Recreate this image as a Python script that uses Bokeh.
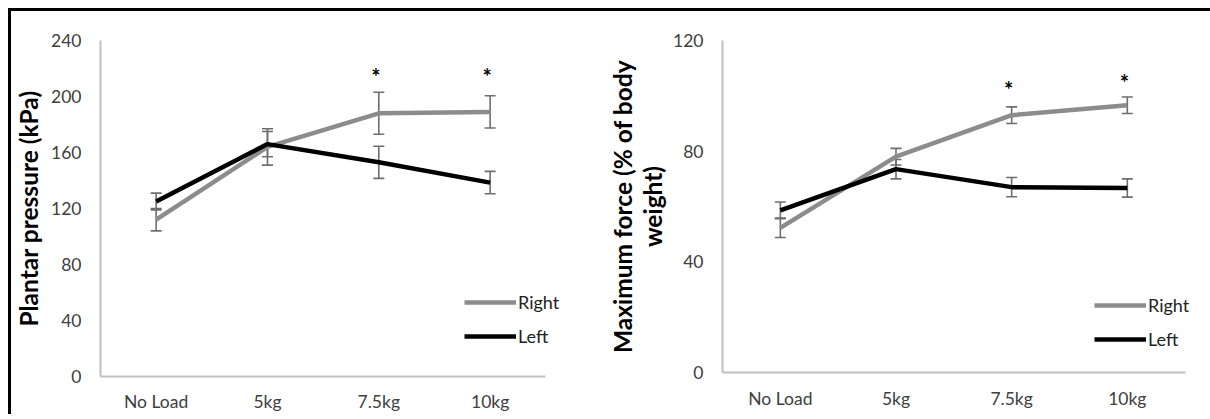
from bokeh.plotting import figure
from bokeh.models import (ColumnDataSource, Whisker, TeeHead, Range1d,
                          FixedTicker, Legend, LegendItem, Div)
from bokeh.layouts import row, column
from bokeh.embed import file_html
from bokeh.resources import INLINE
from bokeh.core.properties import value

categories = ["No Load", "5kg", "7.5kg", "10kg"]

pressure_right = [112, 164, 188, 189]
pressure_right_err = [8, 13, 15, 11.5]
pressure_left = [125, 166, 153, 138.5]
pressure_left_err = [6, 9, 11.5, 8]
pressure_sig_idx = [2, 3]
pressure_sig_y = [218, 218]
pressure_ticks = [0, 40, 80, 120, 160, 200, 240]

force_right = [52.3, 78, 93, 96.6]
force_right_err = [3.5, 3, 3, 3]
force_left = [58.6, 73.5, 67, 66.7]
force_left_err = [3, 3.5, 3.5, 3.3]
force_sig_idx = [2, 3]
force_sig_y = [103.5, 106]
force_ticks = [0, 40, 80, 120]

GREY = "#8c8c8c"
BLACK = "#000000"
ERR = "#6e6e6e"
FONT = "Lato"
X_END = 4.15
FIG_H = 403


def make_chart(right, right_err, left, left_err, sig_idx, sig_y, ticks, ylabel,
               width, mb_left, mb_right, mb_bottom, legend_loc,
               label_standoff, sig_offset, x_standoff):
    xs = [i + 0.5 for i in range(len(categories))]
    p = figure(x_range=Range1d(0, X_END),
               y_range=Range1d(ticks[0], ticks[-1]),
               width=width, height=FIG_H, output_backend="svg",
               toolbar_location=None,
               min_border_left=mb_left, min_border_right=mb_right,
               min_border_top=29, min_border_bottom=mb_bottom)
    p.outline_line_color = None
    p.xgrid.grid_line_color = None
    p.ygrid.grid_line_color = None

    src_r = ColumnDataSource(dict(x=xs, y=right,
                                  upper=[m + e for m, e in zip(right, right_err)],
                                  lower=[m - e for m, e in zip(right, right_err)]))
    src_l = ColumnDataSource(dict(x=xs, y=left,
                                  upper=[m + e for m, e in zip(left, left_err)],
                                  lower=[m - e for m, e in zip(left, left_err)]))

    r_right = p.line("x", "y", source=src_r, line_color=GREY, line_width=4.5,
                     line_join="round")
    r_left = p.line("x", "y", source=src_l, line_color=BLACK, line_width=4.5,
                    line_join="round")

    for src in (src_r, src_l):
        w = Whisker(base="x", upper="upper", lower="lower", source=src,
                    line_color=ERR, line_width=1.6,
                    upper_head=TeeHead(size=11, line_color=ERR, line_width=1.6),
                    lower_head=TeeHead(size=11, line_color=ERR, line_width=1.6))
        p.add_layout(w)

    p.text(x=[xs[i] for i in sig_idx], y=sig_y, text=["*"] * len(sig_idx),
           text_font=value(FONT), text_font_style="bold", text_font_size="22px",
           text_align="center", text_baseline="middle", x_offset=-3,
           y_offset=sig_offset, text_color=BLACK)

    for ax in (p.xaxis[0], p.yaxis[0]):
        ax.axis_line_color = "#c0c0c0"
        ax.axis_line_width = 2
        ax.major_tick_line_color = None
        ax.minor_tick_line_color = None
        ax.major_tick_out = 0
        ax.major_tick_in = 0
        ax.major_label_text_font = FONT
        ax.major_label_text_font_size = "17.5px"
        ax.major_label_text_color = "#404040"
    p.xaxis.ticker = FixedTicker(ticks=xs)
    p.xaxis.major_label_overrides = {x: c for x, c in zip(xs, categories)}
    p.xaxis.bounds = (0, len(categories))
    p.xaxis.major_label_standoff = x_standoff
    p.yaxis.major_label_standoff = 19
    p.yaxis.ticker = FixedTicker(ticks=ticks)
    p.yaxis.axis_label = ylabel
    p.yaxis.axis_label_text_font = FONT
    p.yaxis.axis_label_text_font_style = "bold"
    p.yaxis.axis_label_text_font_size = "24.5px"
    p.yaxis.axis_label_text_line_height = 1.05
    p.yaxis.axis_label_text_color = BLACK
    p.yaxis.axis_label_standoff = label_standoff

    legend = Legend(items=[LegendItem(label="Right", renderers=[r_right]),
                           LegendItem(label="Left", renderers=[r_left])],
                    location=legend_loc)
    legend.glyph_width = 52
    legend.glyph_height = 22
    legend.label_height = 22
    legend.spacing = 12
    legend.label_standoff = 2
    legend.padding = 0
    legend.margin = 0
    legend.border_line_color = None
    legend.background_fill_alpha = 0
    legend.label_text_font = FONT
    legend.label_text_font_size = "18px"
    legend.label_text_color = "#222222"
    p.add_layout(legend)
    return p


p1 = make_chart(pressure_right, pressure_right_err, pressure_left, pressure_left_err,
                pressure_sig_idx, pressure_sig_y, pressure_ticks,
                "Plantar pressure (kPa)",
                589, 86, 38, 37, (364, 29), 5, 5, 14)
p2 = make_chart(force_right, force_right_err, force_left, force_left_err,
                force_sig_idx, force_sig_y, force_ticks,
                "Maximum force (% of body\nweight)",
                602, 122, 0, 42, (372, 22), 3, 3, 15)

top_rule = Div(text="", width=1202, height=3, margin=0,
               styles={"background-color": "#000000"})
left_rule = Div(text="", width=3, height=FIG_H, margin=0,
                styles={"background-color": "#000000"})

layout = column(top_rule, row(left_rule, column(p1), column(p2)))
layout.margin = (8, 0, 0, 8)

open("out.html", "w").write(file_html(layout, INLINE))
